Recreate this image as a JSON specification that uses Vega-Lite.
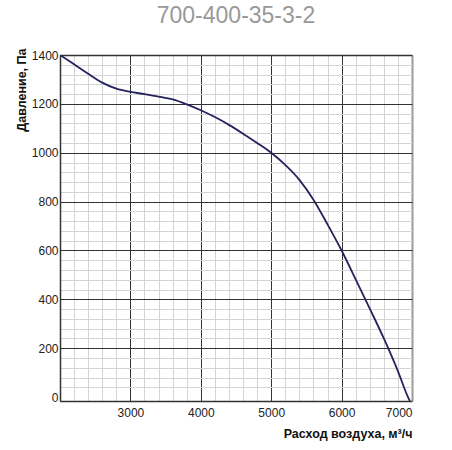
{
  "$schema": "https://vega.github.io/schema/vega-lite/v6.json",
  "width": 352,
  "height": 346,
  "autosize": {"type": "none"},
  "padding": {"left": 60, "top": 55, "right": 40, "bottom": 49},
  "background": "white",
  "title": {"text": "700-400-35-3-2", "fontSize": 23, "font": "Liberation Sans", "fontWeight": "normal", "color": "#999999", "anchor": "middle", "offset": 20},
  "config": {"view": {"stroke": null}, "font": "Liberation Sans"},
  "data": {"values": [
    {"flow": 2000, "pressure": 1400},
    {"flow": 2200, "pressure": 1362},
    {"flow": 2400, "pressure": 1323},
    {"flow": 2600, "pressure": 1287},
    {"flow": 2800, "pressure": 1262},
    {"flow": 3000, "pressure": 1249},
    {"flow": 3200, "pressure": 1240},
    {"flow": 3400, "pressure": 1230},
    {"flow": 3600, "pressure": 1218},
    {"flow": 3800, "pressure": 1198},
    {"flow": 4000, "pressure": 1174},
    {"flow": 4200, "pressure": 1146},
    {"flow": 4400, "pressure": 1114},
    {"flow": 4600, "pressure": 1078},
    {"flow": 4800, "pressure": 1040},
    {"flow": 5000, "pressure": 1000},
    {"flow": 5200, "pressure": 950},
    {"flow": 5400, "pressure": 889},
    {"flow": 5600, "pressure": 808},
    {"flow": 5800, "pressure": 707},
    {"flow": 6000, "pressure": 600},
    {"flow": 6200, "pressure": 482},
    {"flow": 6400, "pressure": 362},
    {"flow": 6600, "pressure": 240},
    {"flow": 6800, "pressure": 106},
    {"flow": 6943, "pressure": 0},
    {"flow": 6970, "pressure": -16}
  ]},
  "mark": {"type": "line", "color": "#25235f", "strokeWidth": 1.8, "interpolate": "monotone", "clip": true},
  "encoding": {
    "x": {
      "field": "flow", "type": "quantitative",
      "scale": {"domain": [2000, 7000], "nice": false, "zero": false},
      "axis": {
        "values": [2000,2200,2400,2600,2800,3000,3200,3400,3600,3800,4000,4200,4400,4600,4800,5000,5200,5400,5600,5800,6000,6200,6400,6600,6800,7000],
        "format": "d",
        "title": "Расход воздуха, м³/ч",
        "titleFontSize": 12.5, "titleFontWeight": "bold", "titleColor": "#111111", "titleAnchor": "end", "titlePadding": 9,
        "labelExpr": "datum.value % 1000 === 0 && datum.value > 2000 ? datum.label : ''",
        "labelFontSize": 12, "labelColor": "#222222", "labelPadding": 6, "labelFlush": true,
        "ticks": false,
        "domainColor": "#333333", "domainWidth": 1.5,
        "grid": true,
        "gridColor": {"condition": [{"test": "datum.value === 7000", "value": "#999999"}, {"test": "datum.value % 1000 === 0", "value": "#333333"}], "value": "#d4d4d4"},
        "gridWidth": {"condition": {"test": "datum.value === 7000", "value": 2}, "value": 1},
        "gridOpacity": 1
      }
    },
    "y": {
      "field": "pressure", "type": "quantitative",
      "scale": {"domain": [-16, 1400], "nice": false, "zero": false},
      "axis": {
        "values": [0,40,80,120,160,200,240,280,320,360,400,440,480,520,560,600,640,680,720,760,800,840,880,920,960,1000,1040,1080,1120,1160,1200,1240,1280,1320,1360,1400],
        "format": "d",
        "title": "Давление, Па",
        "titleFontSize": 12.5, "titleFontWeight": "bold", "titleColor": "#111111", "titleAnchor": "end", "titlePadding": 3, "titleY": -7,
        "labelExpr": "datum.value % 200 === 0 ? datum.label : ''",
        "labelFontSize": 12, "labelColor": "#222222", "labelPadding": 2, "labelFlush": false,
        "ticks": false,
        "domainColor": "#333333", "domainWidth": 1.5,
        "grid": true,
        "gridColor": {"condition": [{"test": "datum.value === 0", "value": "rgba(0,0,0,0)"}, {"test": "datum.value % 200 === 0", "value": "#333333"}], "value": "#d4d4d4"},
        "gridWidth": {"condition": {"test": "datum.value === 1400", "value": 1.5}, "value": 1},
        "gridOpacity": 1
      }
    }
  }
}
